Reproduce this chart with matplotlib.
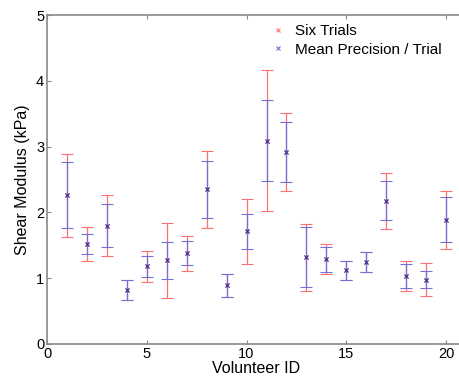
import matplotlib
matplotlib.use("Agg")

import matplotlib.pyplot as plt
import numpy as np
from matplotlib.lines import Line2D

plt.rcParams["font.family"] = ["Liberation Sans", "DejaVu Sans"]

volunteer_id = np.arange(1, 21)
mean_modulus = [2.26, 1.52, 1.80, 0.82, 1.18, 1.27, 1.38, 2.35, 0.89, 1.71,
                3.09, 2.92, 1.32, 1.29, 1.12, 1.25, 2.18, 1.03, 0.98, 1.89]
six_trials_err = [0.635, 0.265, 0.46, 0.15, 0.235, 0.57, 0.265, 0.585, 0.175, 0.50,
                  1.075, 0.59, 0.51, 0.225, 0.14, 0.155, 0.425, 0.23, 0.25, 0.44]
precision_err = [0.50, 0.15, 0.33, 0.15, 0.165, 0.285, 0.185, 0.43, 0.175, 0.26,
                 0.62, 0.46, 0.46, 0.19, 0.14, 0.155, 0.30, 0.18, 0.13, 0.345]

red = "#ff7070"
blue = "#7070d8"

fig = plt.figure(figsize=(4.59, 3.85), dpi=100)
ax = fig.add_axes([0.1024, 0.1065, 0.913, 0.8545])

ax.errorbar(volunteer_id, mean_modulus, yerr=six_trials_err, fmt="x", color=red,
            ecolor=red, elinewidth=0.9, capsize=4, capthick=0.9, markersize=3.5,
            markeredgewidth=0.8)
ax.errorbar(volunteer_id, mean_modulus, yerr=precision_err, fmt="x", color="#3030a0",
            ecolor=blue, elinewidth=0.9, capsize=4, capthick=0.9, markersize=3.5,
            markeredgewidth=0.8)

ax.set_xlim(0, 21)
ax.set_ylim(0, 5)
ax.set_xticks([0, 5, 10, 15, 20])
ax.set_yticks([0, 1, 2, 3, 4, 5])
ax.tick_params(direction="in", top=True, right=True, length=3, width=0.8,
               color="#888888", labelsize=10.5, pad=2)
for s in ax.spines.values():
    s.set_color("#888888")
    s.set_linewidth(1.2)

ax.set_xlabel("Volunteer ID", fontsize=11.5, labelpad=0)
ax.set_ylabel("Shear Modulus (kPa)", fontsize=11.5, labelpad=4)

handles = [Line2D([], [], linestyle="none", marker="x", color=red,
                  markersize=3.5, markeredgewidth=0.8),
           Line2D([], [], linestyle="none", marker="x", color=blue,
                  markersize=3.5, markeredgewidth=0.8)]
ax.legend(handles, ["Six Trials", "Mean Precision / Trial"],
          loc="upper left", bbox_to_anchor=(0.50, 1.0), frameon=False,
          fontsize=11, handletextpad=0.3, handlelength=1.6,
          labelspacing=0.3, borderaxespad=0.2)

fig.savefig("out.png", dpi=100)
